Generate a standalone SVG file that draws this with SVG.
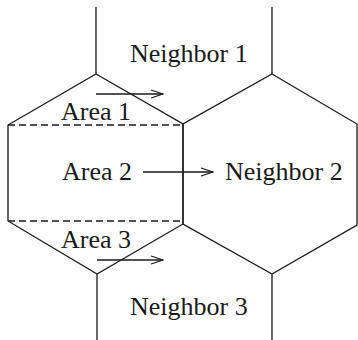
<svg xmlns="http://www.w3.org/2000/svg" width="358" height="340" viewBox="0 0 358 340">
<style>
.ln{fill:none;stroke:#1a1a1a;stroke-width:1.3}
.dash{fill:none;stroke:#1a1a1a;stroke-width:1.3;stroke-dasharray:7 4}
.lbl{font-family:"Liberation Serif","Times New Roman",serif;font-size:26px;fill:#1a1a1a}
</style>
<defs>
<marker id="ah" markerWidth="14" markerHeight="10" refX="13" refY="5" orient="auto" markerUnits="userSpaceOnUse">
<path d="M1,1 L13,5 L1,9" fill="none" stroke="#1a1a1a" stroke-width="1.3"/>
</marker>
</defs>
<rect width="358" height="340" fill="#ffffff"/>
<g id="cell-own">
<polygon class="ln" points="96,74 183,124 183,224 97,274 8,221 8,125"/>
<line class="dash" x1="8" y1="125" x2="183" y2="125"/>
<line class="dash" x1="8" y1="221" x2="183" y2="221"/>
</g>
<g id="cell-neighbor2">
<polygon class="ln" points="272,74 357,124 357,225 272,274 183,224 183,124"/>
</g>
<g id="cell-edges">
<line class="ln" x1="96" y1="74" x2="96" y2="7"/>
<line class="ln" x1="272" y1="74" x2="272" y2="7"/>
<line class="ln" x1="97" y1="274" x2="97" y2="340"/>
<line class="ln" x1="272" y1="274" x2="272" y2="340"/>
</g>
<g id="area1"><text class="lbl" x="61" y="120">Area 1</text></g>
<g id="area2"><text class="lbl" x="62" y="180">Area 2</text></g>
<g id="area3"><text class="lbl" x="61" y="248">Area 3</text></g>
<g id="neighbor1"><text class="lbl" x="130" y="62">Neighbor 1</text></g>
<g id="neighbor2"><text class="lbl" x="225" y="180">Neighbor 2</text></g>
<g id="neighbor3"><text class="lbl" x="130" y="315">Neighbor 3</text></g>
<g id="connectors">
<line class="ln" x1="96" y1="94" x2="163" y2="94" marker-end="url(#ah)"/>
<line class="ln" x1="143" y1="172" x2="213" y2="172" marker-end="url(#ah)"/>
<line class="ln" x1="97" y1="260" x2="163" y2="260" marker-end="url(#ah)"/>
</g>
</svg>
